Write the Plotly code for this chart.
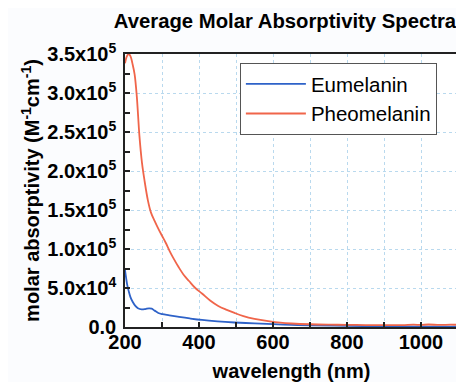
import plotly.graph_objects as go

# ---- data ----
eu_nm = [200, 203, 206, 210, 215, 221, 228, 235, 245, 255, 265, 272, 280, 290, 301,
         320, 346, 375, 408, 450, 496, 550, 600, 650, 700, 800, 900, 1000, 1100]
eu_val = [7.3e4, 6.3e4, 5.4e4, 4.6e4, 3.8e4, 3.2e4, 2.7e4, 2.4e4, 2.25e4, 2.3e4, 2.4e4,
          2.35e4, 2.1e4, 1.8e4, 1.65e4, 1.5e4, 1.3e4, 1.1e4, 9.0e3, 7.2e3, 5.8e3, 4.6e3,
          3.6e3, 2.8e3, 2.2e3, 1.4e3, 9e2, 6e2, 5e2]

ph_nm = [200, 205, 210, 215, 220, 226, 232, 239, 246, 253, 262, 270, 280, 290, 300,
         310, 320, 330, 346, 360, 373, 390, 408, 430, 452, 475, 496, 520, 550, 587,
         620, 650, 700, 750, 800, 850, 900, 950, 980, 1000, 1020, 1050, 1080, 1100]
ph_val = [3.38e5, 3.47e5, 3.50e5, 3.47e5, 3.38e5, 3.24e5, 2.95e5, 2.45e5, 2.10e5, 1.87e5,
          1.62e5, 1.47e5, 1.36e5, 1.26e5, 1.17e5, 1.08e5, 9.8e4, 8.9e4, 7.6e4, 6.6e4,
          5.9e4, 5.0e4, 4.3e4, 3.4e4, 2.7e4, 2.2e4, 1.8e4, 1.4e4, 1.05e4, 7.5e3,
          5.5e3, 4.5e3, 3.5e3, 3.0e3, 2.8e3, 2.5e3, 2.3e3, 2.5e3, 3.0e3, 2.6e3,
          3.2e3, 2.6e3, 3.0e3, 2.8e3]

y_tickvals = [0, 5e4, 1e5, 1.5e5, 2e5, 2.5e5, 3e5, 3.5e5]
y_ticktext = ["0.0", "5.0x10<sup>4</sup>", "1.0x10<sup>5</sup>", "1.5x10<sup>5</sup>",
              "2.0x10<sup>5</sup>", "2.5x10<sup>5</sup>", "3.0x10<sup>5</sup>",
              "3.5x10<sup>5</sup>"]
y_minor = [2.5e4, 7.5e4, 1.25e5, 1.75e5, 2.25e5, 2.75e5, 3.25e5]
x_tickvals = [200, 400, 600, 800, 1000]

fig = go.Figure()
fig.add_trace(go.Scatter(x=eu_nm, y=eu_val, mode="lines", name="Eumelanin",
                         line=dict(color="#2e62c8", width=1.8, shape="spline")))
fig.add_trace(go.Scatter(x=ph_nm, y=ph_val, mode="lines", name="Pheomelanin",
                         line=dict(color="#f0654a", width=1.8, shape="spline")))

FONT = "Liberation Sans, Arial, sans-serif"
grid_col = "#b9d9ee"

# page body has a default margin -> figure made slightly smaller than the window
W, H = 456, 374
fig.update_layout(
    width=W, height=H,
    margin=dict(l=117, r=6, t=46, b=55, autoexpand=False),
    paper_bgcolor="#fbfcfe", plot_bgcolor="#ffffff",
    font=dict(family=FONT, color="black"),
    title=dict(text="<b>Average Molar Absorptivity Spectra</b>",
               x=277 / W, xref="container", xanchor="center",
               y=1 - 13 / H, yref="container", yanchor="middle",
               font=dict(size=20.3, family=FONT, color="black")),
    showlegend=True,
    legend=dict(x=0.345, y=0.967, xanchor="left", yanchor="top",
                bordercolor="#555555", borderwidth=1, bgcolor="white",
                font=dict(size=20.5, family=FONT, color="black"),
                itemwidth=60, tracegroupgap=0),
)

fig.update_xaxes(
    range=[200, 1100], tickvals=x_tickvals,
    ticktext=[f"<b>{v}</b>" for v in x_tickvals],
    tickfont=dict(size=20, family=FONT, color="black"),
    ticks="inside", ticklen=5, tickwidth=1.5, tickcolor="#222",
    ticklabelstandoff=-4,
    showline=True, linecolor="#222", linewidth=1.5, mirror=True,
    showgrid=True, gridcolor=grid_col, gridwidth=1, griddash="dot",
    minor=dict(dtick=100, tick0=0, ticks="inside", ticklen=5, tickwidth=1.5,
               tickcolor="#222", showgrid=True, gridcolor=grid_col,
               griddash="dot", gridwidth=1),
    zeroline=False,
    title=dict(text="<b>wavelength (nm)</b>", font=dict(size=20, family=FONT, color="black"),
               standoff=13),
)

fig.update_yaxes(
    range=[0, 3.5e5], tickvals=y_tickvals,
    ticktext=[f"<b>{t}</b>" for t in y_ticktext],
    tickfont=dict(size=20, family=FONT, color="black"),
    ticks="inside", ticklen=5, tickwidth=1.5, tickcolor="#222",
    ticklabelstandoff=3,
    showline=True, linecolor="#222", linewidth=1.5, mirror=True,
    showgrid=True, gridcolor=grid_col, gridwidth=1, griddash="dot",
    minor=dict(tickvals=y_minor,
               ticks="inside", ticklen=5, tickwidth=1.5, tickcolor="#222",
               showgrid=False),
    zeroline=False,
    title=dict(text="<b>molar absorptivity (M<sup>-1</sup>cm<sup>-1</sup>)</b>",
               font=dict(size=20, family=FONT, color="black"), standoff=2),
)

fig.write_html("out.html")
